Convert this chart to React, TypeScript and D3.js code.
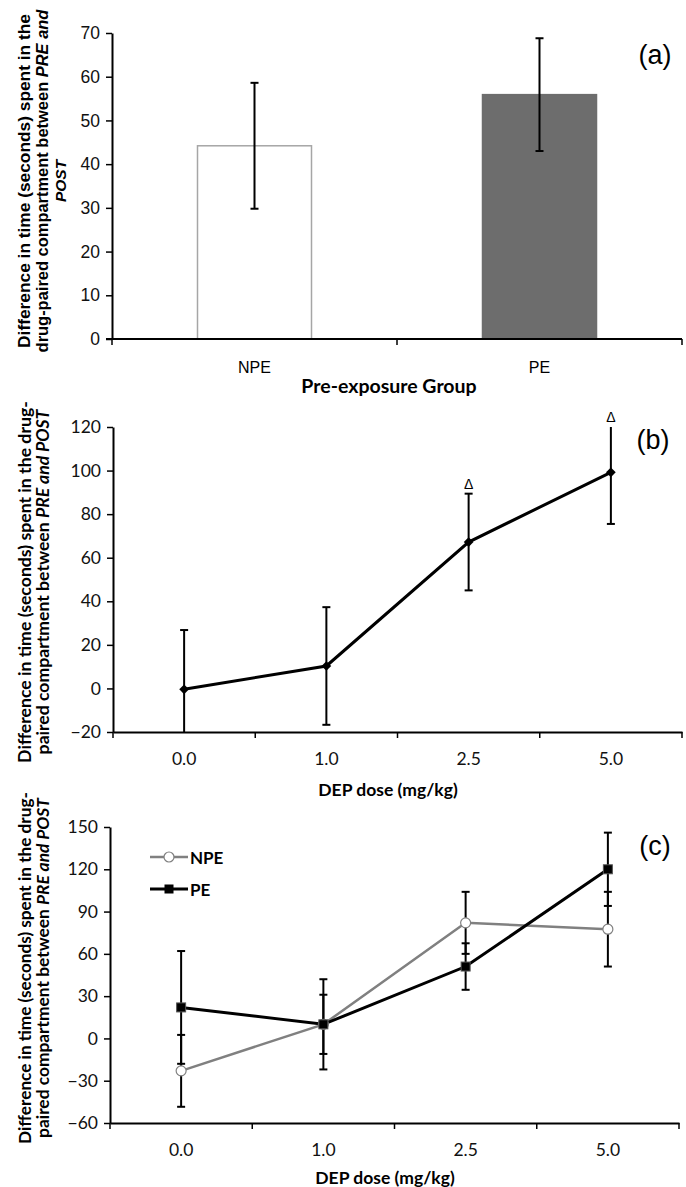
import React, { useEffect, useRef } from 'react';
import * as d3 from 'd3';

const W = 686;
const H = 1187;

// panel (a)
const groups = ['NPE', 'PE'];
const groupMeans = [44.2, 55.9];
const groupErrors = [14.4, 12.9];
const ticksA = [0, 10, 20, 30, 40, 50, 60, 70];

// panel (b)
const doses = ['0.0', '1.0', '2.5', '5.0'];
const doseMeans = [-0.4, 10.3, 67.2, 99.2];
const doseErrors = [27.2, 27.0, 22.2, 23.7];
const doseMarked = [false, false, true, true];
const ticksB = [-20, 0, 20, 40, 60, 80, 100, 120];

// panel (c)
const npeMeans = [-23, 10, 82, 77.5];
const npeErrors = [25.5, 32, 22, 26.5];
const peMeans = [22, 10, 51, 120];
const peErrors = [40, 21, 16.5, 26];
const ticksC = [-60, -30, 0, 30, 60, 90, 120, 150];

const ARIAL = '"Liberation Sans", Arial, sans-serif';
const CALIBRI = 'Lato, "Open Sans", sans-serif';

// rotated multi-line label; each line gets scaled to the length seen in the figure
const yLabel = (g, lines, xs, cy, font, size, lengths) => {
  lines.forEach((parts, i) => {
    const t = g.append('text')
      .attr('transform', `translate(${xs[i]},${cy}) rotate(-90)`)
      .attr('text-anchor', 'middle')
      .attr('dominant-baseline', 'central')
      .style('font-family', font)
      .style('font-size', size + 'px')
      .style('font-weight', 'bold');
    parts.forEach(([txt, it]) => {
      t.append('tspan').text(txt).style('font-style', it ? 'italic' : 'normal');
    });
    if (lengths[i]) {
      const len = t.node().getComputedTextLength();
      if (len > 0) t.style('font-size', (size * lengths[i]) / len + 'px');
    }
  });
};

const styleAxis = (ax, font, size) => {
  ax.select('.domain').attr('stroke', '#000').attr('stroke-width', 2);
  ax.selectAll('.tick line').attr('stroke', '#000').attr('stroke-width', 1.5);
  ax.selectAll('.tick text')
    .attr('fill', '#111')
    .style('font-family', font)
    .style('font-size', size + 'px');
};

const errorBar = (g, x, y, mean, err, cap, width) => {
  const [lo, hi] = y.domain();
  const top = Math.min(mean + err, hi);
  const bot = Math.max(mean - err, lo);
  g.append('line').attr('x1', x).attr('x2', x).attr('y1', y(top)).attr('y2', y(bot))
    .attr('stroke', '#000').attr('stroke-width', width);
  if (mean + err <= hi) {
    g.append('line').attr('x1', x - cap).attr('x2', x + cap).attr('y1', y(top)).attr('y2', y(top))
      .attr('stroke', '#000').attr('stroke-width', width);
  }
  if (mean - err >= lo) {
    g.append('line').attr('x1', x - cap).attr('x2', x + cap).attr('y1', y(bot)).attr('y2', y(bot))
      .attr('stroke', '#000').attr('stroke-width', width);
  }
};

const boundaryTicks = (g, x0, step, yPos, n) => {
  g.selectAll(null)
    .data(d3.range(n + 1))
    .enter()
    .append('line')
    .attr('x1', i => x0 + i * step)
    .attr('x2', i => x0 + i * step)
    .attr('y1', yPos)
    .attr('y2', yPos + 6)
    .attr('stroke', '#000')
    .attr('stroke-width', 1.5);
};

const App = () => {
  const svgRef = useRef(null);

  useEffect(() => {
    document.body.style.margin = '0';
    const svg = d3.select(svgRef.current);
    svg.selectAll('*').remove();

    // ---------- (a) ----------
    const ga = svg.append('g');
    const xa = d3.scaleBand().domain(groups).range([112, 682]).paddingInner(0.6).paddingOuter(0.3);
    const ya = d3.scaleLinear().domain([0, 70]).range([339, 33]);

    ga.selectAll('rect')
      .data(groups)
      .enter()
      .append('rect')
      .attr('x', d => xa(d))
      .attr('y', (d, i) => ya(groupMeans[i]))
      .attr('width', xa.bandwidth())
      .attr('height', (d, i) => ya(0) - ya(groupMeans[i]))
      .attr('fill', (d, i) => (i === 0 ? '#ffffff' : '#6d6d6d'))
      .attr('stroke', (d, i) => (i === 0 ? '#a6a6a6' : '#6d6d6d'))
      .attr('stroke-width', 1.5);

    groups.forEach((d, i) => errorBar(ga, xa(d) + xa.bandwidth() / 2, ya, groupMeans[i], groupErrors[i], 4, 2));

    const axA = ga.append('g').attr('transform', 'translate(112,0)')
      .call(d3.axisLeft(ya).tickValues(ticksA).tickSize(6).tickSizeOuter(0).tickPadding(6));
    styleAxis(axA, ARIAL, 17.5);

    ga.append('line').attr('x1', 106).attr('x2', 682).attr('y1', ya(0)).attr('y2', ya(0))
      .attr('stroke', '#000').attr('stroke-width', 2);
    boundaryTicks(ga, 112, xa.step(), ya(0), 2);

    ga.selectAll('.cat')
      .data(groups)
      .enter()
      .append('text')
      .attr('x', d => xa(d) + xa.bandwidth() / 2)
      .attr('y', 367)
      .attr('text-anchor', 'middle')
      .attr('dominant-baseline', 'central')
      .style('font-family', ARIAL)
      .style('font-size', '16px')
      .text(d => d);

    ga.append('text').attr('x', 389).attr('y', 385)
      .attr('text-anchor', 'middle').attr('dominant-baseline', 'central')
      .style('font-family', CALIBRI).style('font-size', '19.5px').style('font-weight', 'bold')
      .text('Pre-exposure Group');

    ga.append('text').attr('x', 655).attr('y', 55)
      .attr('text-anchor', 'middle').attr('dominant-baseline', 'central')
      .style('font-family', ARIAL).style('font-size', '27px')
      .text('(a)');

    yLabel(ga, [
      [['Difference in time (seconds) spent in the', false]],
      [['drug-paired compartment between ', false], ['PRE and', true]],
      [['POST', true]],
    ], [24, 42, 60], 181, ARIAL, 14, [334, 343, 0]);
    ga.selectAll('text').filter(function () { return d3.select(this).text() === 'POST'; })
      .style('font-size', '15.5px');

    // ---------- (b) ----------
    const gb = svg.append('g');
    const xb = d3.scaleBand().domain(doses).range([113, 682]);
    const yb = d3.scaleLinear().domain([-20, 120]).range([732, 427]);
    const cxb = d => xb(d) + xb.bandwidth() / 2;

    doses.forEach((d, i) => errorBar(gb, cxb(d), yb, doseMeans[i], doseErrors[i], 4, 2));

    gb.append('path')
      .datum(doses)
      .attr('fill', 'none')
      .attr('stroke', '#000')
      .attr('stroke-width', 3)
      .attr('d', d3.line().x(d => cxb(d)).y((d, i) => yb(doseMeans[i])));

    gb.selectAll('.pt')
      .data(doses)
      .enter()
      .append('path')
      .attr('transform', (d, i) => `translate(${cxb(d)},${yb(doseMeans[i])})`)
      .attr('d', d3.symbol(d3.symbolDiamond2, 60)())
      .attr('fill', '#000');

    gb.selectAll('.delta')
      .data(doses.filter((d, i) => doseMarked[i]))
      .enter()
      .append('text')
      .attr('x', d => cxb(d))
      .attr('y', d => {
        const i = doses.indexOf(d);
        return yb(Math.min(doseMeans[i] + doseErrors[i], 120)) - 10;
      })
      .attr('text-anchor', 'middle')
      .attr('dominant-baseline', 'central')
      .style('font-family', ARIAL)
      .style('font-size', '14px')
      .text('Δ');

    const axB = gb.append('g').attr('transform', 'translate(113,0)')
      .call(d3.axisLeft(yb).tickValues(ticksB).tickSize(6).tickSizeOuter(0).tickPadding(6));
    styleAxis(axB, CALIBRI, 17.5);

    const axBx = gb.append('g').attr('transform', `translate(0,${yb(-20)})`)
      .call(d3.axisBottom(xb).tickSize(0).tickPadding(21));
    styleAxis(axBx, CALIBRI, 17.5);
    boundaryTicks(gb, 113, xb.step(), yb(-20), doses.length);

    gb.append('text').attr('x', 388).attr('y', 789)
      .attr('text-anchor', 'middle').attr('dominant-baseline', 'central')
      .style('font-family', CALIBRI).style('font-size', '17.5px').style('font-weight', 'bold')
      .text('DEP dose (mg/kg)');

    gb.append('text').attr('x', 653).attr('y', 440)
      .attr('text-anchor', 'middle').attr('dominant-baseline', 'central')
      .style('font-family', ARIAL).style('font-size', '27px')
      .text('(b)');

    yLabel(gb, [
      [['Difference in time (seconds) spent in the drug-', false]],
      [['paired compartment between ', false], ['PRE and POST', true]],
    ], [24, 42], 582, CALIBRI, 14, [362, 345]);

    // ---------- (c) ----------
    const gc = svg.append('g');
    const xc = d3.scaleBand().domain(doses).range([110, 679]);
    const yc = d3.scaleLinear().domain([-60, 150]).range([1123, 827]);
    const cxc = d => xc(d) + xc.bandwidth() / 2;

    doses.forEach((d, i) => errorBar(gc, cxc(d), yc, npeMeans[i], npeErrors[i], 4, 2));
    doses.forEach((d, i) => errorBar(gc, cxc(d), yc, peMeans[i], peErrors[i], 4, 2));

    const series = [
      { name: 'NPE', values: npeMeans, color: '#808080', width: 2.5 },
      { name: 'PE', values: peMeans, color: '#000000', width: 3 },
    ];

    series.forEach(s => {
      gc.append('path')
        .datum(doses)
        .attr('fill', 'none')
        .attr('stroke', s.color)
        .attr('stroke-width', s.width)
        .attr('d', d3.line().x(d => cxc(d)).y((d, i) => yc(s.values[i])));
    });

    gc.selectAll('.npe')
      .data(doses)
      .enter()
      .append('circle')
      .attr('cx', d => cxc(d))
      .attr('cy', (d, i) => yc(npeMeans[i]))
      .attr('r', 5)
      .attr('fill', '#fff')
      .attr('stroke', '#808080')
      .attr('stroke-width', 1.2);

    gc.selectAll('.pe')
      .data(doses)
      .enter()
      .append('rect')
      .attr('x', d => cxc(d) - 4.5)
      .attr('y', (d, i) => yc(peMeans[i]) - 4.5)
      .attr('width', 9)
      .attr('height', 9)
      .attr('fill', '#000')
      .attr('stroke', '#555')
      .attr('stroke-width', 1);

    // legend
    const leg = gc.append('g');
    series.forEach((s, i) => {
      const ly = 857 + i * 32;
      leg.append('line').attr('x1', 150).attr('x2', 188).attr('y1', ly).attr('y2', ly)
        .attr('stroke', s.color).attr('stroke-width', s.width);
      if (i === 0) {
        leg.append('circle').attr('cx', 169).attr('cy', ly).attr('r', 5)
          .attr('fill', '#fff').attr('stroke', '#808080').attr('stroke-width', 1.2);
      } else {
        leg.append('rect').attr('x', 164.5).attr('y', ly - 4.5).attr('width', 9).attr('height', 9)
          .attr('fill', '#000');
      }
      leg.append('text').attr('x', 190).attr('y', ly)
        .attr('dominant-baseline', 'central')
        .style('font-family', CALIBRI).style('font-size', '17px').style('font-weight', 'bold')
        .text(s.name);
    });

    const axC = gc.append('g').attr('transform', 'translate(110,0)')
      .call(d3.axisLeft(yc).tickValues(ticksC).tickSize(6).tickSizeOuter(0).tickPadding(6));
    styleAxis(axC, CALIBRI, 17.5);

    const axCx = gc.append('g').attr('transform', `translate(0,${yc(-60)})`)
      .call(d3.axisBottom(xc).tickSize(0).tickPadding(21));
    styleAxis(axCx, CALIBRI, 17.5);
    boundaryTicks(gc, 110, xc.step(), yc(-60), doses.length);

    gc.append('text').attr('x', 385).attr('y', 1177)
      .attr('text-anchor', 'middle').attr('dominant-baseline', 'central')
      .style('font-family', CALIBRI).style('font-size', '17.5px').style('font-weight', 'bold')
      .text('DEP dose (mg/kg)');

    gc.append('text').attr('x', 655).attr('y', 846)
      .attr('text-anchor', 'middle').attr('dominant-baseline', 'central')
      .style('font-family', ARIAL).style('font-size', '27px')
      .text('(c)');

    yLabel(gc, [
      [['Difference in time (seconds) spent in the drug-', false]],
      [['paired compartment between ', false], ['PRE and POST', true]],
    ], [24, 42], 968, CALIBRI, 14, [352, 340]);
  }, []);

  return <svg ref={svgRef} width={W} height={H} style={{ display: 'block', background: '#fff' }} />;
};

export default App;
